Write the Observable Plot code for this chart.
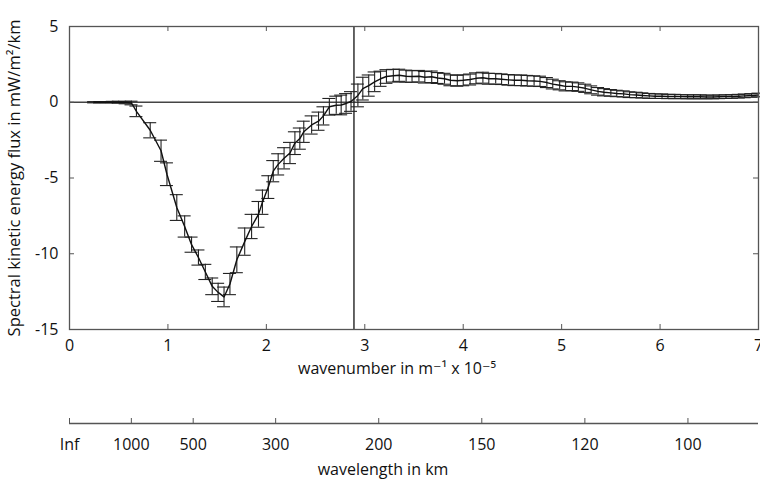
<!DOCTYPE html>
<html>
<head>
<meta charset="utf-8">
<script src="https://cdn.jsdelivr.net/npm/d3@7"></script>
<script src="https://cdn.jsdelivr.net/npm/@observablehq/plot@0.6"></script>
<style>
  html, body { margin: 0; padding: 0; background: #fff; }
  svg { display: block; }
</style>
</head>
<body>
<div id="chart"></div>
<script>
// wavenumber (m^-1 x 10^-5)
const wavenumber = [
  0.25, 0.31, 0.38, 0.44, 0.50, 0.57, 0.63, 0.68, 0.82, 0.93, 0.99, 1.09, 1.17, 1.24, 1.31, 1.38, 1.45, 1.51, 1.57,
  1.63, 1.70, 1.78, 1.85, 1.92, 1.96, 2.02, 2.07, 2.12, 2.18, 2.24, 2.29, 2.34, 2.38, 2.46, 2.53, 2.58, 2.64, 2.71, 2.76, 2.81, 2.86, 2.93, 2.98,
  3.04, 3.10, 3.16, 3.22, 3.29, 3.35, 3.42, 3.48, 3.55, 3.61, 3.68, 3.74, 3.81, 3.87, 3.94, 4.00, 4.07, 4.13, 4.20, 4.26,
  4.33, 4.39, 4.46, 4.52, 4.59, 4.65, 4.72, 4.78, 4.85, 4.91, 4.98, 5.04, 5.11, 5.17, 5.24, 5.30, 5.37, 5.43, 5.50, 5.56,
  5.63, 5.69, 5.76, 5.82, 5.89, 5.95, 6.02, 6.08, 6.15, 6.21, 6.28, 6.34, 6.41, 6.47, 6.54, 6.60, 6.67, 6.73, 6.80, 6.86, 6.93, 7.00
];
// spectral kinetic energy flux (mW/m^2/km)
const flux = [
  0.00, 0.00, 0.00, 0.01, 0.00, -0.02, -0.05, -0.60, -1.85, -3.20, -4.75, -6.95, -8.20, -9.40, -10.25, -11.20, -12.15, -12.55, -12.85,
  -12.00, -10.40, -9.20, -8.20, -7.40, -6.60, -5.60, -4.55, -4.10, -3.70, -3.35, -2.70, -2.40, -1.95, -1.50, -1.25, -0.90, -0.30, -0.20, -0.18, -0.08, 0.05, 0.45, 0.90,
  1.10, 1.35, 1.55, 1.70, 1.75, 1.78, 1.72, 1.70, 1.72, 1.65, 1.68, 1.60, 1.55, 1.45, 1.42, 1.45, 1.50, 1.58, 1.62, 1.55,
  1.55, 1.52, 1.48, 1.45, 1.45, 1.42, 1.40, 1.38, 1.30, 1.20, 1.12, 1.05, 1.05, 1.00, 0.92, 0.82, 0.72, 0.66, 0.62, 0.58,
  0.55, 0.50, 0.48, 0.45, 0.42, 0.40, 0.40, 0.38, 0.38, 0.37, 0.36, 0.36, 0.36, 0.35, 0.35, 0.36, 0.37, 0.38, 0.40, 0.42, 0.45, 0.48
];
// half-length of error bars
const errorbar = [
  0.04, 0.04, 0.04, 0.05, 0.06, 0.08, 0.12, 0.35, 0.50, 0.70, 0.75, 0.85, 0.70, 0.50, 0.50, 0.50, 0.55, 0.60, 0.65,
  0.70, 0.85, 0.90, 0.80, 0.85, 0.80, 0.75, 0.70, 0.70, 0.70, 0.70, 0.75, 0.70, 0.70, 0.60, 0.60, 0.60, 0.55, 0.60, 0.65, 0.65, 0.65, 0.75, 0.75,
  0.70, 0.65, 0.50, 0.45, 0.42, 0.40, 0.40, 0.38, 0.38, 0.38, 0.38, 0.36, 0.36, 0.36, 0.36, 0.36, 0.36, 0.36, 0.36, 0.36,
  0.35, 0.35, 0.35, 0.35, 0.35, 0.35, 0.34, 0.34, 0.33, 0.32, 0.30, 0.30, 0.28, 0.28, 0.27, 0.26, 0.25, 0.24, 0.22, 0.21,
  0.20, 0.19, 0.18, 0.17, 0.16, 0.15, 0.15, 0.14, 0.14, 0.13, 0.13, 0.13, 0.13, 0.12, 0.12, 0.12, 0.12, 0.12, 0.12, 0.12, 0.12, 0.12
];

const xTicks = [0, 1, 2, 3, 4, 5, 6, 7];
const yTicks = [-15, -10, -5, 0, 5];
const wavelengthLabels = ["Inf", "1000", "500", "300", "200", "150", "120", "100"];
const wavelengthKm = [Infinity, 1000, 500, 300, 200, 150, 120, 100];
const markerWavenumber = [2.89];

const data = wavenumber.map((k, i) => ({k, v: flux[i], lo: flux[i] - errorbar[i], hi: flux[i] + errorbar[i]}));
// wavenumber (x10^-5 m^-1) of each wavelength tick: 2*pi / (lambda in m) * 1e5
const wlTicks = wavelengthKm.map(l => 2 * Math.PI / (l * 1000) * 1e5);
const wlFormat = d => wavelengthLabels[wlTicks.findIndex(t => Math.abs(t - d) < 1e-9)];

const font = "'Open Sans', 'DejaVu Sans', sans-serif";
const ink = "#111";
const frameInk = "#555";

const chart = Plot.plot({
  width: 760,
  height: 487,
  marginLeft: 69,
  marginRight: 2,
  marginTop: 26,
  marginBottom: 158,
  style: {fontFamily: font, fontSize: "16px", color: ink, background: "#fff"},
  x: {domain: [0, 7]},
  y: {domain: [-15, 5]},
  marks: [
    // zero line and marker line
    Plot.ruleY([0], {stroke: "#444", strokeWidth: 1.3}),
    Plot.ruleX(markerWavenumber, {stroke: "#222", strokeWidth: 1.4}),
    // error bars
    Plot.ruleX(data, {x: "k", y1: "lo", y2: "hi", stroke: "#222", strokeWidth: 1.1}),
    Plot.ruleY(data, {y: "lo", x1: "k", x2: "k", insetLeft: -6.5, insetRight: -6.5, stroke: "#222", strokeWidth: 1.1}),
    Plot.ruleY(data, {y: "hi", x1: "k", x2: "k", insetLeft: -6.5, insetRight: -6.5, stroke: "#222", strokeWidth: 1.1}),
    // curve
    Plot.line(data, {x: "k", y: "v", stroke: "#111", strokeWidth: 1.4}),
    // frame
    Plot.frame({stroke: frameInk, strokeWidth: 1.3}),
    // inward ticks
    Plot.ruleX(xTicks.slice(1, -1), {x: d => d, y1: -15, y2: -15, insetTop: -5, stroke: frameInk}),
    Plot.ruleX(xTicks.slice(1, -1), {x: d => d, y1: 5, y2: 5, insetBottom: -5, stroke: frameInk}),
    Plot.ruleY(yTicks.slice(1, -1), {y: d => d, x1: 0, x2: 0, insetRight: -5, stroke: frameInk}),
    Plot.ruleY(yTicks.slice(1, -1), {y: d => d, x1: 7, x2: 7, insetLeft: -5, stroke: frameInk}),
    // axis tick labels
    Plot.axisX({ticks: xTicks, tickSize: 0, tickPadding: 10, fontSize: 16, tickFormat: d => String(d), fill: ink, label: null}),
    Plot.axisY({ticks: yTicks, tickSize: 0, tickPadding: 11, fontSize: 16, tickFormat: d => String(d), fill: ink, label: null}),
    // secondary wavelength axis
    Plot.ruleY([-15], {x1: 0, x2: 7, dy: 94, stroke: frameInk, strokeWidth: 1.3}),
    Plot.ruleX(wlTicks, {x: d => d, y1: -15, y2: -15, insetTop: -5, dy: 94, stroke: frameInk}),
    Plot.axisX({ticks: wlTicks, tickSize: 0, tickPadding: 15, dy: 94, fontSize: 16, tickFormat: wlFormat, fill: ink, label: null}),
    // axis titles
    Plot.text(["wavenumber in m⁻¹ x 10⁻⁵"], {frameAnchor: "bottom", dx: -17, dy: 44, fontSize: 16, fill: ink}),
    Plot.text(["wavelength in km"], {frameAnchor: "bottom", dx: -31, dy: 145, fontSize: 16, fill: ink}),
    Plot.text(["Spectral kinetic energy flux in mW/m²/km"], {frameAnchor: "left", textAnchor: "middle", rotate: -90, dx: -55, dy: 0, fontSize: 16.5, fill: ink})
  ]
});
document.getElementById("chart").appendChild(chart);
</script>
</body>
</html>
